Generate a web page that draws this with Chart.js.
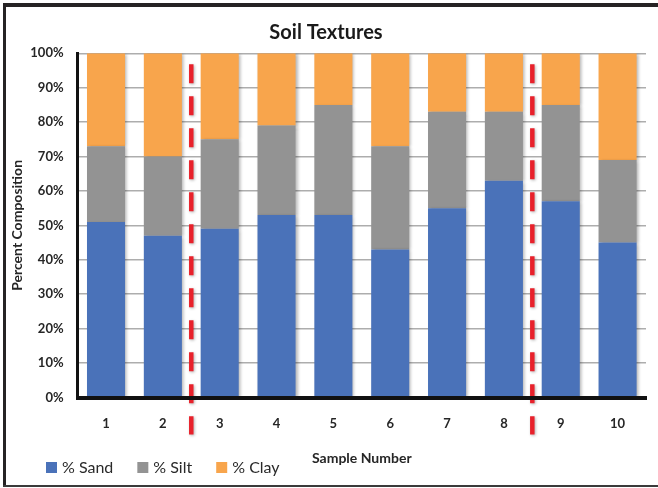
<!DOCTYPE html>
<html>
<head>
<meta charset="utf-8">
<script src="https://cdn.jsdelivr.net/npm/chart.js@4"></script>
<style>
  html, body { margin: 0; padding: 0; background: #fff; }
  #wrap { position: relative; width: 658px; height: 488px; }
</style>
</head>
<body>
<div id="wrap"><canvas id="c" width="658" height="488"></canvas></div>
<script>
const samples = ['1', '2', '3', '4', '5', '6', '7', '8', '9', '10'];
const sand = [51, 47, 49, 53, 53, 43, 55, 63, 57, 45];
const silt = [22, 23, 26, 26, 32, 30, 28, 20, 28, 24];
const clay = [27, 30, 25, 21, 15, 27, 17, 17, 15, 31];
const seriesNames = ['% Sand', '% Silt', '% Clay'];
const dividerAfter = ['2', '8'];
const chartTitle = 'Soil Textures';
const xTitle = 'Sample Number';
const yTitle = 'Percent Composition';

const FONT = 'Lato, "Open Sans", sans-serif';
const colors = ['#4a72b9', '#939393', '#f8a54c'];

const framePlugin = {
  id: 'frame',
  afterDraw(chart) {
    const ctx = chart.ctx;
    ctx.save();
    ctx.fillStyle = '#262324';
    ctx.fillRect(3, 3, 655, 4);
    ctx.fillRect(3, 3, 3, 484);
    ctx.fillStyle = '#3a3a3a';
    ctx.fillRect(3, 485, 655, 2);
    ctx.restore();
  }
};

const shadowPlugin = {
  id: 'barShadow',
  beforeDatasetsDraw(chart) {
    const ctx = chart.ctx;
    ctx.save();
    ctx.shadowColor = 'rgba(0,0,0,0.28)';
    ctx.shadowBlur = 3;
    ctx.shadowOffsetX = 2;
    ctx.shadowOffsetY = 1;
  },
  afterDatasetsDraw(chart) {
    chart.ctx.restore();
  }
};

const dividerPlugin = {
  id: 'dividers',
  afterDatasetsDraw(chart) {
    const x = chart.scales.x;
    const area = chart.chartArea;
    const ctx = chart.ctx;
    ctx.save();
    ctx.strokeStyle = '#e8212b';
    ctx.lineWidth = 4.5;
    ctx.setLineDash([19, 13]);
    ctx.shadowColor = 'rgba(0,0,0,0.3)';
    ctx.shadowBlur = 3;
    ctx.shadowOffsetX = 1;
    ctx.shadowOffsetY = 1;
    dividerAfter.forEach(lbl => {
      const i = samples.indexOf(lbl);
      const px = (x.getPixelForValue(i) + x.getPixelForValue(i + 1)) / 2;
      ctx.beginPath();
      ctx.moveTo(px, area.top + 11);
      ctx.lineTo(px, area.bottom + 37);
      ctx.stroke();
    });
    ctx.restore();
  }
};

const legendPlugin = {
  id: 'customLegend',
  afterDraw(chart) {
    const ctx = chart.ctx;
    ctx.save();
    ctx.font = '16px ' + FONT;
    ctx.textBaseline = 'middle';
    ctx.textAlign = 'left';
    let xPos = 46;
    const boxTop = 462;
    chart.data.datasets.forEach(ds => {
      ctx.fillStyle = ds.backgroundColor;
      ctx.fillRect(xPos, boxTop, 11, 11);
      ctx.fillStyle = '#2a2a2a';
      ctx.fillText(ds.label, xPos + 16, boxTop + 6);
      xPos += 16 + ctx.measureText(ds.label).width + 24;
    });
    ctx.restore();
  }
};

new Chart(document.getElementById('c'), {
  type: 'bar',
  data: {
    labels: samples,
    datasets: [
      { label: seriesNames[0], data: sand, backgroundColor: colors[0] },
      { label: seriesNames[1], data: silt, backgroundColor: colors[1] },
      { label: seriesNames[2], data: clay, backgroundColor: colors[2] }
    ]
  },
  options: {
    responsive: false,
    animation: false,
    devicePixelRatio: 1,
    layout: { padding: { left: 6, right: 12, top: 0, bottom: 20.5 } },
    datasets: { bar: { barPercentage: 0.67, categoryPercentage: 1, borderWidth: 0 } },
    plugins: {
      legend: { display: false },
      tooltip: { enabled: false },
      title: {
        display: true,
        text: chartTitle,
        color: '#1a1a1a',
        font: { family: FONT, size: 20, weight: 'bold' },
        padding: { top: 21, bottom: 8.3 }
      }
    },
    scales: {
      x: {
        stacked: true,
        grid: { display: false, drawTicks: false },
        border: { display: true, color: '#111', width: 4, z: 1 },
        ticks: { color: '#262626', font: { family: FONT, size: 13, weight: 'bold' }, padding: 19 },
        title: {
          display: true, text: xTitle, color: '#262626',
          font: { family: FONT, size: 14, weight: 'bold' },
          padding: { top: 4, bottom: 1 }
        },
        afterFit(s) { s.height = 70; }
      },
      y: {
        stacked: true,
        min: 0, max: 100,
        grid: { color: '#adadad', lineWidth: 1.5, drawTicks: false },
        border: { display: true, color: '#111', width: 3, z: 1 },
        ticks: {
          stepSize: 10,
          color: '#262626',
          font: { family: FONT, size: 13, weight: 'bold' },
          padding: 14,
          callback: v => v + '%'
        },
        title: {
          display: true, text: yTitle, color: '#262626',
          font: { family: FONT, size: 14, weight: 'bold' },
          padding: { top: 3, bottom: 0 }
        },
        afterFit(s) { s.width = 71.6; }
      }
    }
  },
  plugins: [shadowPlugin, dividerPlugin, legendPlugin, framePlugin]
});
</script>
</body>
</html>
